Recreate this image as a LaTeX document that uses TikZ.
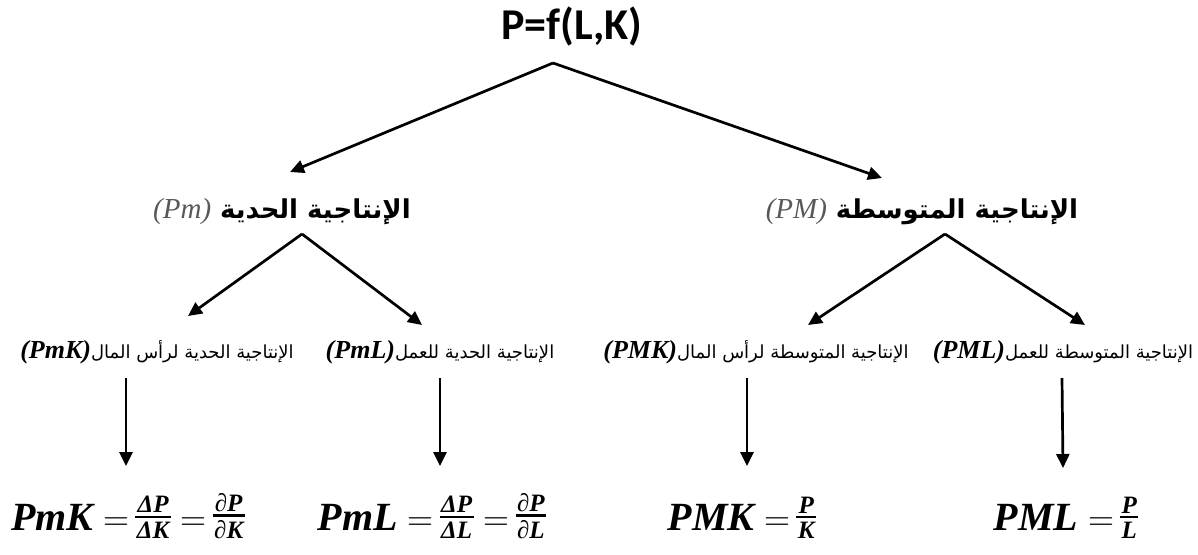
\documentclass[tikz,border=0pt]{standalone}
\usepackage{fontspec}
\usetikzlibrary{arrows.meta,calc}
\TeXXeTstate=1
\newfontfamily\arabicfont[Script=Arabic]{DejaVu Sans}
\newfontfamily\titlefont{Carlito}
\newfontfamily\varfont{Liberation Serif}
% variable names and fraction terms in bold italic serif
\newcommand{\bigvar}[1]{{\varfont\bfseries\itshape\fontsize{40}{44}\selectfont #1}}
\newcommand{\smallvar}{\varfont\bfseries\itshape\fontsize{25}{27}\selectfont}
\newcommand{\eqsign}{\hspace{10pt}{\fontsize{36}{40}\selectfont=}\hspace{6pt}}
% a stacked fraction with a heavy bar, built without math mode
\newcommand{\fr}[2]{%
  \begingroup
  \setbox0=\hbox{\smallvar #1}\setbox2=\hbox{\smallvar #2}%
  \dimen0=\wd0 \ifdim\wd2>\dimen0 \dimen0=\wd2\fi
  \advance\dimen0 by 3pt
  \raisebox{-8.6pt}{\vbox{\offinterlineskip\halign{\hfil##\hfil\cr
    \box0\cr\noalign{\kern3pt}%
    \vrule width\dimen0 height 2.2pt\cr\noalign{\kern4pt}%
    \box2\cr}}}%
  \endgroup}
\newcommand{\latinpart}[1]{{\varfont\bfseries\itshape\fontsize{26}{28}\selectfont(#1)}}
\newcommand{\grayvar}[1]{{\color{black!65}\varfont\itshape\fontsize{29}{32}\selectfont(#1)}}
\tikzset{
  arr/.style={line width=2.7pt, -{Triangle[length=14pt,width=13pt]}},
  headline/.style={inner sep=0pt, font=\titlefont\bfseries\fontsize{44}{46}\selectfont},
  branch/.style={inner sep=2pt},
  leaf/.style={inner sep=2pt},
  formula/.style={inner sep=0pt, anchor=base},
}
\begin{document}
\begin{tikzpicture}[x=1pt,y=-1pt]
  \useasboundingbox (0,0) rectangle (1198,554);

  % root
  \node[headline] (top) at (572,27) {P=f(L,K)};
  \coordinate (apex) at (553,63);

  % first level
  \node[branch] (pm) at (282,212) {\grayvar{Pm}\hspace{9pt}{\arabicfont\bfseries\fontsize{26}{32}\selectfont\beginR الإنتاجية الحدية\endR}};
  \node[branch] (pM) at (922,212) {\grayvar{PM}\hspace{9pt}{\arabicfont\bfseries\fontsize{26}{32}\selectfont\beginR الإنتاجية المتوسطة\endR}};
  \coordinate (tipL) at (290,172);
  \coordinate (tipR) at (882,178);
  \draw[arr] (apex) -- (tipL);
  \draw[arr] (apex) -- (tipR);

  % second level
  \coordinate (apexL) at (302,234);
  \coordinate (apexR) at (945,234);
  \node[leaf] (l1) at (157,352) {\latinpart{PmK}{\arabicfont\fontsize{18}{22}\selectfont\beginR الإنتاجية الحدية لرأس المال\endR}};
  \node[leaf] (l2) at (440,352) {\latinpart{PmL}{\arabicfont\fontsize{18}{22}\selectfont\beginR الإنتاجية الحدية للعمل\endR}};
  \node[leaf] (l3) at (756,352) {\latinpart{PMK}{\arabicfont\fontsize{18}{22}\selectfont\beginR الإنتاجية المتوسطة لرأس المال\endR}};
  \node[leaf] (l4) at (1063,352) {\latinpart{PML}{\arabicfont\fontsize{18}{22}\selectfont\beginR الإنتاجية المتوسطة للعمل\endR}};
  \coordinate (t1) at (188,316);
  \coordinate (t2) at (422,325);
  \coordinate (t3) at (808,325);
  \coordinate (t4) at (1085,325);
  \draw[arr] (apexL) -- (t1);
  \draw[arr] (apexL) -- (t2);
  \draw[arr] (apexR) -- (t3);
  \draw[arr] (apexR) -- (t4);

  % formulas
  \node[formula] (f1) at (128,530) {\bigvar{PmK}\eqsign\fr{ΔP}{ΔK}\eqsign\fr{∂P}{∂K}};
  \node[formula] (f2) at (432,530) {\bigvar{PmL}\eqsign\fr{ΔP}{ΔL}\eqsign\fr{∂P}{∂L}};
  \node[formula] (f3) at (742,530) {\bigvar{PMK}\eqsign\fr{P}{K}};
  \node[formula] (f4) at (1066,530) {\bigvar{PML}\eqsign\fr{P}{L}};

  % vertical links from each label down to its formula
  \draw[arr] (126,378) coordinate (s1) -- (126,466) coordinate (e1);
  \draw[arr] (440,378) coordinate (s2) -- (440,466) coordinate (e2);
  \draw[arr] (747,378) coordinate (s3) -- (747,466) coordinate (e3);
  \draw[arr] (1062,378) coordinate (s4) -- (1063,468) coordinate (e4);
\end{tikzpicture}
\end{document}
